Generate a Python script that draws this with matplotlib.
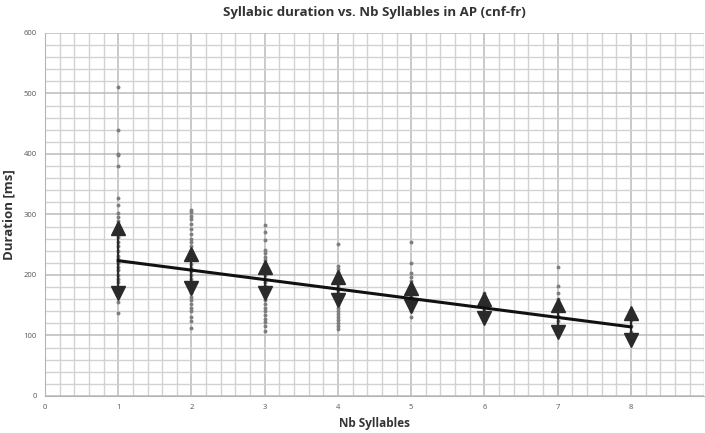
import matplotlib.pyplot as plt
from matplotlib.ticker import MultipleLocator
import numpy as np

# durations [ms] of the individual syllables, per number of syllables in the AP
nb_syll = [1, 2, 3, 4, 5, 6, 7, 8]
durations = [
    [510, 440, 400, 398, 380, 328, 315, 302, 296, 290, 284, 278, 270, 262, 255,
     248, 240, 232, 226, 220, 214, 208, 200, 194, 188, 180, 172, 165, 155, 137],
    [308, 304, 298, 292, 285, 276, 268, 260, 254, 248, 242, 236, 230, 224, 218,
     212, 206, 200, 194, 188, 182, 176, 170, 164, 158, 152, 146, 140, 130, 124, 112],
    [282, 271, 258, 242, 236, 230, 224, 218, 212, 206, 200, 194, 188, 182, 176,
     170, 164, 158, 152, 146, 140, 134, 128, 122, 115, 107],
    [252, 215, 210, 205, 200, 195, 190, 185, 180, 175, 170, 165, 160, 155, 150,
     145, 140, 135, 130, 125, 120, 115, 110],
    [255, 220, 203, 197, 190, 183, 176, 170, 164, 158, 152, 146, 140, 130],
    [170, 165, 160, 155, 150, 145, 140, 135, 130, 125],
    [213, 182, 170, 160, 150, 140, 132, 124, 116, 108, 100],
    [135, 125, 115, 105, 95],
]
means = [224, 207, 191.5, 178, 163.5, 144.5, 128, 115]
sds = [54, 28, 21.5, 19, 14.5, 15.5, 22, 22]

plt.rcParams['font.family'] = ['Open Sans', 'DejaVu Sans']

fig = plt.figure(figsize=(7.05, 4.33), dpi=100)
ax = fig.add_axes([0.0638, 0.0855, 0.935, 0.8383])

for x, vals in zip(nb_syll, durations):
    ax.scatter([x] * len(vals), vals, s=8, color='#7e7e7e', zorder=3, linewidths=0)

m = np.array(means)
s = np.array(sds)
ax.vlines(nb_syll, m - s, m + s, color='#2a2a2a', lw=1.6, zorder=4)
ax.plot(nb_syll, m + s, '^', ms=9.5, color='#2a2a2a', zorder=5)
ax.plot(nb_syll, m - s, 'v', ms=9.5, color='#2a2a2a', zorder=5)

# linear trend line
coef = np.polyfit(nb_syll, means, 1)
xs = np.array([nb_syll[0], nb_syll[-1]])
ax.plot(xs, np.polyval(coef, xs), color='#111111', lw=2.2, zorder=6)

ax.set_xlim(0, 9)
ax.set_ylim(0, 600)
ax.xaxis.set_minor_locator(MultipleLocator(0.2))
ax.yaxis.set_major_locator(MultipleLocator(100))
ax.yaxis.set_minor_locator(MultipleLocator(20))
ax.set_xticks(range(0, 9))
ax.grid(which='major', color='#bababa', lw=1.1)
ax.grid(which='minor', color='#d2d2d2', lw=1.0)
ax.set_axisbelow(True)

for sp in ['top', 'right']:
    ax.spines[sp].set_visible(False)
ax.spines['left'].set_color('#b5b5b5')
ax.spines['bottom'].set_color('#b5b5b5')
ax.tick_params(which='both', length=0, labelsize=5.5, colors='#555555', pad=6)

ax.set_title('Syllabic duration vs. Nb Syllables in AP (cnf-fr)', fontsize=9.5,
             fontweight='bold', color='#333333', pad=12)
ax.set_xlabel('Nb Syllables', fontsize=8.5, fontweight='bold', color='#333333', labelpad=4)
ax.set_ylabel('Duration [ms]', fontsize=9.5, fontweight='bold', color='#333333', labelpad=6)

fig.savefig('out.png', dpi=100)
